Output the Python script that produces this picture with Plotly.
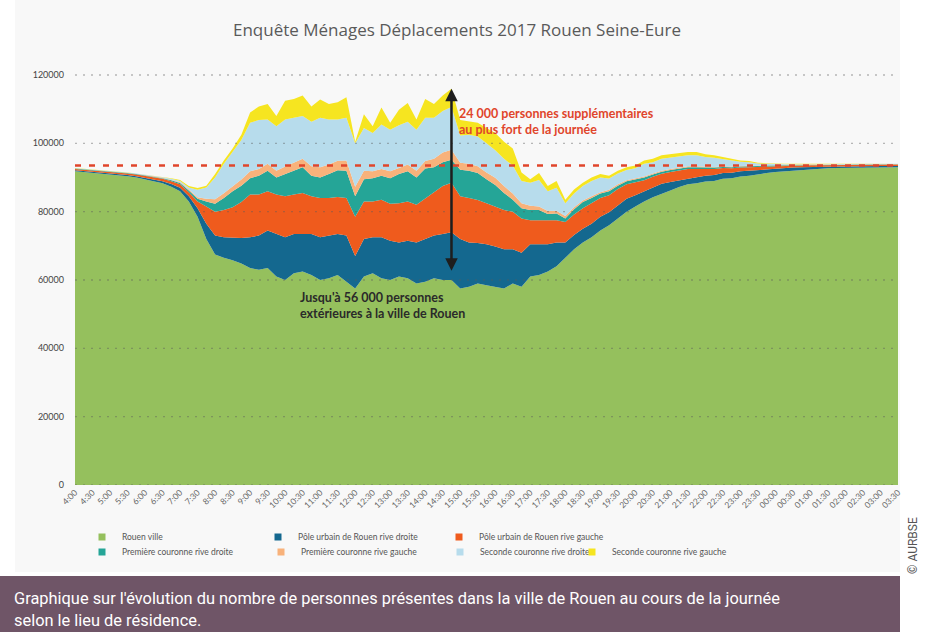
import plotly.graph_objects as go

# ---------------- data ----------------
times = []
for h in list(range(4, 24)) + [0, 1, 2, 3]:
    for m in (0, 15, 30, 45):
        lab = (f"{h}:{m:02d}" if h >= 4 else f"{h:02d}:{m:02d}")
        times.append(lab)
times = times[:times.index("03:30") + 1]

tick_labels = times[::2]

rouen_ville = [91800, 91600, 91400, 91200, 91000, 90700, 90400, 90000, 89500, 89000,
               88300, 87300, 86000, 83000, 78500, 72000, 67500, 66500, 65800, 64800,
               63500, 63000, 63500, 61000, 60000, 62000, 62500, 61500, 60000, 60500,
               61500, 59500, 57500, 61000, 62000, 60500, 60000, 61000, 60500, 59000,
               59500, 60500, 60000, 60000, 57500, 58000, 59000, 58500, 58000, 57500,
               59000, 58000, 61000, 61500, 62500, 64000, 66500, 69000, 71000, 72500,
               74500, 76000, 78000, 80000, 81500, 83000, 84200, 85300, 86200, 87200,
               88000, 88300, 88800, 89000, 89600, 89800, 90300, 90500, 91000, 91300,
               91600, 91800, 92100, 92300, 92500, 92600, 92700, 92800, 92800, 92900,
               92900, 93000, 93000, 93000, 93000]

pole_rive_droite = [300, 300, 300, 300, 350, 350, 350, 400, 450, 500,
                    600, 800, 1000, 1500, 2500, 4500, 5500, 6000, 6500, 7500,
                    9000, 10000, 11000, 12500, 12500, 11500, 11000, 12000, 12500, 12500,
                    12000, 13500, 9500, 11000, 10500, 12000, 11500, 10000, 11000, 12000,
                    12500, 12500, 13500, 14000, 14500, 13000, 11800, 12000, 11800, 11500,
                    10000, 10000, 9500, 9000, 8000, 7000, 4500, 4200, 4000, 4000,
                    4000, 3800, 3800, 3800, 3300, 3000, 3000, 2900, 2500, 2000,
                    1800, 1800, 1700, 1700, 1700, 1600, 1500, 1500, 1300, 1200,
                    1000, 900, 800, 700, 600, 500, 400, 400, 400, 400,
                    400, 400, 400, 400, 400]

pole_rive_gauche = [400, 400, 400, 400, 450, 450, 450, 500, 550, 600,
                    700, 800, 1000, 1200, 2000, 5000, 7000, 8000, 9000, 10500,
                    12500, 12000, 11500, 11500, 12000, 11500, 12000, 11000, 11500, 11000,
                    10800, 11000, 11500, 11000, 10500, 11000, 10800, 11500, 11500, 11000,
                    11800, 12500, 14000, 14500, 12500, 13000, 12600, 12000, 11800, 11500,
                    11000, 10000, 7000, 7000, 6800, 6500, 6000, 6000, 6000, 6000,
                    5500, 5000, 4800, 4200, 3800, 3200, 3000, 2900, 2900, 2800,
                    2700, 2400, 2000, 1800, 1500, 1300, 1100, 1000, 900, 800,
                    700, 700, 600, 600, 500, 500, 500, 400, 400, 400,
                    400, 400, 400, 400, 400]

premiere_rive_droite = [100, 100, 100, 100, 100, 100, 100, 100, 150, 150,
                        200, 300, 400, 500, 800, 1500, 2300, 3500, 4700, 4800,
                        4800, 5500, 6000, 5000, 6500, 7000, 7500, 6000, 6000, 7000,
                        7800, 8000, 6000, 6500, 6800, 7000, 7500, 8500, 8800, 8000,
                        8800, 7500, 7000, 6700, 7800, 8000, 7900, 7000, 6200, 5000,
                        3500, 3000, 3000, 3000, 2000, 2000, 1000, 1500, 1800, 1500,
                        1300, 1200, 1000, 900, 800, 800, 700, 600, 600, 500,
                        500, 500, 400, 400, 300, 300, 300, 200, 200, 200,
                        200, 200, 200, 100, 100, 100, 100, 100, 100, 100,
                        100, 100, 100, 100, 100]

premiere_rive_gauche = [50, 50, 50, 50, 50, 50, 50, 50, 100, 100,
                        100, 150, 200, 300, 400, 800, 1300, 1400, 1500, 1800,
                        2000, 2000, 2000, 2000, 2200, 2300, 2500, 2800, 3000, 2800,
                        2800, 3000, 2800, 2500, 2000, 2000, 2000, 1800, 2000, 2000,
                        2200, 2500, 2800, 2900, 2000, 2000, 2000, 2000, 2100, 2000,
                        1800, 1500, 1200, 1000, 900, 800, 700, 600, 500, 500,
                        400, 400, 400, 300, 300, 300, 300, 300, 300, 300,
                        300, 300, 300, 200, 200, 200, 200, 200, 100, 100,
                        100, 100, 100, 100, 100, 100, 50, 50, 50, 50,
                        50, 50, 50, 50, 50]

seconde_rive_droite = [50, 50, 50, 50, 50, 50, 50, 100, 100, 150,
                       200, 300, 400, 600, 2200, 3300, 6400, 8600, 10000, 11600,
                       14200, 14300, 13000, 13000, 13800, 13200, 12500, 13000, 14500, 13200,
                       12100, 12500, 12700, 12500, 11200, 13000, 12200, 12500, 12500, 12000,
                       12700, 12000, 12200, 12500, 8000, 8500, 8700, 8500, 8100, 8000,
                       8200, 6500, 6800, 7800, 5800, 6700, 3800, 4000, 4200, 4500,
                       4300, 3300, 3200, 3000, 3000, 3700, 3300, 3500, 3300, 3400,
                       3200, 3200, 2800, 2700, 2100, 1600, 1200, 1100, 600, 400,
                       300, 200, 100, 100, 100, 100, 100, 50, 50, 50,
                       50, 50, 50, 50, 50]

seconde_rive_gauche = [50, 50, 50, 50, 50, 50, 50, 50, 50, 100,
                       100, 150, 300, 400, 500, 500, 1000, 1000, 1000, 1500,
                       3000, 4000, 4500, 3000, 5500, 5500, 6000, 4500, 5300, 4500,
                       5000, 6000, 500, 4000, 2000, 5000, 2000, 4500, 5500, 3000,
                       5500, 4000, 4500, 5400, 4500, 4000, 4000, 4500, 5000, 5000,
                       5000, 2500, 1000, 2000, 1500, 2000, 1000, 1200, 1000, 1000,
                       1000, 800, 800, 800, 800, 1000, 1000, 1000, 1000, 1000,
                       1000, 1000, 800, 700, 600, 500, 400, 300, 200, 200,
                       100, 100, 100, 100, 100, 100, 50, 50, 50, 50,
                       50, 50, 50, 50, 50]

series_names = ["Rouen ville",
                "Pôle urbain de Rouen rive droite",
                "Pôle urbain de Rouen rive gauche",
                "Première couronne rive droite",
                "Première couronne rive gauche",
                "Seconde couronne rive droite",
                "Seconde couronne rive gauche"]
series_values = [rouen_ville, pole_rive_droite, pole_rive_gauche,
                 premiere_rive_droite, premiere_rive_gauche,
                 seconde_rive_droite, seconde_rive_gauche]

night_level = 93500          # niveau de référence (pointillé rouge)
peak_time = "14:45"
peak_total = 116000
peak_exterior_floor = 62300

y_ticks = [0, 20000, 40000, 60000, 80000, 100000, 120000]

for s in series_values:
    assert len(s) == len(times), len(s)

# ---------------- style ----------------
colors = ["#95c05d", "#14688f", "#ef5b1d", "#25a597", "#f8b27b", "#b7dcec", "#f6e520"]
W, H = 925, 632
ML, MR, MT, MB = 75, 27, 70, 147
PW, PH = W - ML - MR, H - MT - MB
Y0_PX = H - MB                      # pixel row of value 0
Y_TOP = PH / 410 * 120000           # 120000 sits 410 px above 0


def px(xp):
    return (xp - ML) / PW


def py(yp):
    return (Y0_PX - yp) / PH


fig = go.Figure()
for name, vals, col in zip(series_names, series_values, colors):
    fig.add_trace(go.Scatter(
        x=times, y=vals, name=name, stackgroup="one", mode="lines",
        line=dict(width=0, color=col), fillcolor=col,
        showlegend=False, legendgroup=name))

# legend entries (one legend per entry to reproduce the two-row layout)
legend_pos = [(122, 537), (298, 537), (479, 537),
              (122, 552), (301, 552), (480, 552), (612, 552)]
legend_layouts = {}
for k, (name, col, (tx, ty)) in enumerate(zip(series_names, colors, legend_pos)):
    key = "legend" if k == 0 else f"legend{k + 1}"
    fig.add_trace(go.Scatter(
        x=[None], y=[None], mode="markers", name=name, legendgroup=name,
        marker=dict(symbol="square", size=7, color=col),
        showlegend=True, legend=key))
    legend_layouts[key] = dict(
        x=px(tx - 40), y=py(ty), xanchor="left", yanchor="middle",
        orientation="h", bgcolor="rgba(0,0,0,0)",
        font=dict(family="Lato", size=8.5, color="#555555"),
        itemclick=False, itemdoubleclick=False)

shapes = [
    # light panel behind the chart
    dict(type="rect", xref="paper", yref="paper", layer="below",
         x0=px(15), x1=px(900), y0=py(572), y1=py(0),
         fillcolor="#f8f8f8", line=dict(width=0)),
    # caption band
    dict(type="rect", xref="paper", yref="paper", layer="below",
         x0=px(0), x1=px(900), y0=py(632), y1=py(576),
         fillcolor="#6f5567", line=dict(width=0)),
]
# dotted value grid drawn over the areas (faint over the fills)
for v in y_ticks:
    shapes.append(dict(type="line", xref="paper", yref="y", x0=0, x1=1,
                       y0=v, y1=v, layer="above",
                       line=dict(color="rgba(90,90,90,0.42)", width=1.3,
                                 dash="2px,6px")))
# night reference level
shapes.append(dict(type="line", xref="paper", yref="y", x0=0, x1=1,
                   y0=night_level, y1=night_level, layer="above",
                   line=dict(color="#e0452b", width=2.5, dash="6px,8px")))

peak_idx = times.index(peak_time)
annotations = [
    dict(x=peak_idx, y=peak_total, ax=peak_idx, ay=peak_exterior_floor,
         xref="x", yref="y", axref="x", ayref="y", text="",
         showarrow=True, arrowside="end+start", arrowhead=2, arrowsize=1,
         arrowwidth=2.5, arrowcolor="#1e1e1e"),
    dict(x=px(457), y=py(104), xref="paper", yref="paper",
         xanchor="left", yanchor="top", align="left", showarrow=False,
         text="<b>24 000 personnes supplémentaires<br>au plus fort de la journée</b>",
         font=dict(family="Lato", size=12.5, color="#e0452b")),
    dict(x=px(298), y=py(288), xref="paper", yref="paper",
         xanchor="left", yanchor="top", align="left", showarrow=False,
         text="<b>Jusqu'à 56 000 personnes<br>extérieures à la ville de Rouen</b>",
         font=dict(family="Lato", size=12.5, color="#2a2a2a")),
    dict(x=px(12), y=py(598), xref="paper", yref="paper",
         xanchor="left", yanchor="middle", showarrow=False,
         text="Graphique sur l'évolution du nombre de personnes présentes dans la ville de Rouen au cours de la journée",
         font=dict(family="Roboto", size=16.4, color="#ffffff")),
    dict(x=px(12), y=py(620), xref="paper", yref="paper",
         xanchor="left", yanchor="middle", showarrow=False,
         text="selon le lieu de résidence.",
         font=dict(family="Roboto", size=16.4, color="#ffffff")),
    dict(x=px(913), y=py(546), xref="paper", yref="paper",
         xanchor="center", yanchor="middle", showarrow=False, textangle=-90,
         text="© AURBSE",
         font=dict(family="Roboto", size=12, color="#555555")),
]

fig.update_layout(
    width=W, height=H,
    margin=dict(l=ML, r=MR, t=MT, b=MB, autoexpand=False),
    paper_bgcolor="#ffffff", plot_bgcolor="rgba(0,0,0,0)",
    title=dict(text="Enquête Ménages Déplacements 2017 Rouen Seine-Eure",
               x=457 / W, xanchor="center", y=1 - 30 / H, yanchor="middle",
               font=dict(family="Open Sans", size=17, color="#5a5a5a")),
    shapes=shapes, annotations=annotations,
    showlegend=True,
    **legend_layouts,
)

fig.update_xaxes(
    type="category", range=[0, len(times) - 1],
    tickmode="array", tickvals=tick_labels, ticktext=tick_labels,
    tickangle=-45, showgrid=False, zeroline=False, showline=False, ticks="",
    tickfont=dict(family="Lato", size=8.5, color="#666666"))

fig.update_yaxes(
    range=[0, Y_TOP], tickmode="array", tickvals=y_ticks,
    ticktext=[str(v) for v in y_ticks],
    showgrid=False, zeroline=False, showline=False, ticks="",
    ticklabelstandoff=10,
    tickfont=dict(family="Lato", size=9, color="#444444"))

fig.write_html("out.html",
               config={"displayModeBar": False},
               post_script="document.body.style.margin='0';")
